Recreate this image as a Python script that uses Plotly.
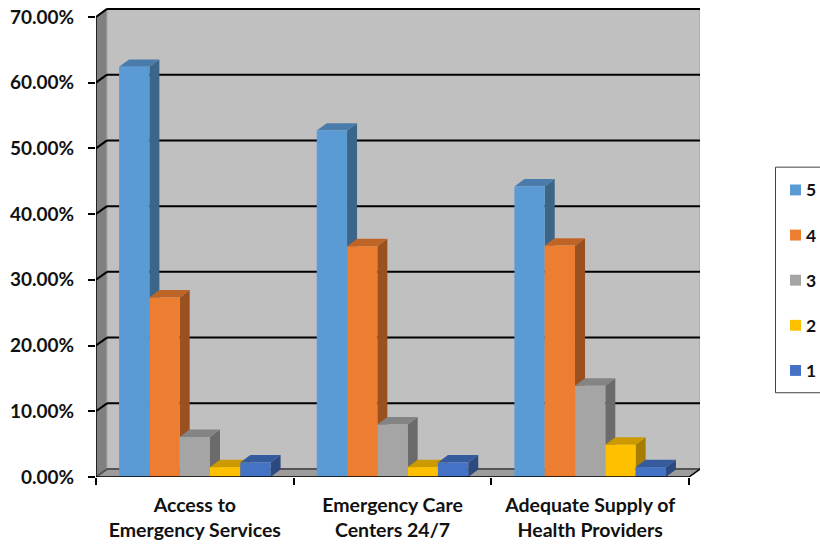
import plotly.graph_objects as go

# ---- data -------------------------------------------------------------
categories = [
    "Access to<br>Emergency Services",
    "Emergency Care<br>Centers 24/7",
    "Adequate Supply of<br>Health Providers",
]
series_names = ["5", "4", "3", "2", "1"]
vals_5 = [62.4, 52.7, 44.2]
vals_4 = [27.3, 35.1, 35.2]
vals_3 = [6.1, 8.0, 13.9]
vals_2 = [1.5, 1.5, 4.9]
vals_1 = [2.2, 2.2, 1.5]
series_values = [vals_5, vals_4, vals_3, vals_2, vals_1]
y_tick_values = [0, 10, 20, 30, 40, 50, 60, 70]

# front / right-side / top face colours of each series
front_colors = ["#5B9BD5", "#ED7D31", "#A5A5A5", "#FFC000", "#4472C4"]
side_colors = ["#3B6589", "#9A511F", "#6B6B6B", "#A67D00", "#2C4A80"]
top_colors = ["#497CAA", "#BE6427", "#848484", "#CC9A00", "#365B9D"]

# ---- geometry -----------------------------------------------------------
W, H = 820, 546
X_MIN = -0.5
PX_PER_X = 197.67          # pixels per category
PX_PER_Y = 6.629           # pixels per percentage point
WALL_DX, WALL_DY = 11, 8   # depth of the walls (px)
BAR_DX, BAR_DY = 10, 7.5   # depth of the columns (px)
X_MAX = 2.5 + WALL_DX / PX_PER_X
Y_MAX = 71.5

plot_w = (X_MAX - X_MIN) * PX_PER_X
plot_h = Y_MAX * PX_PER_Y
M_L = 96
M_T = 5
M_R = W - M_L - plot_w
M_B = H - M_T - plot_h

wdx, wdy = WALL_DX / PX_PER_X, WALL_DY / PX_PER_Y
bdx, bdy = BAR_DX / PX_PER_X, BAR_DY / PX_PER_Y

BARGAP = 0.2335
n_series = len(series_names)
bar_w = (1 - BARGAP) / n_series
offsets = [-(1 - BARGAP) / 2 + i * bar_w for i in range(n_series)]

LABEL_FONT = dict(family="Lato", weight="bold", color="#111111")

fig = go.Figure()

# side and top faces of the columns (drawn behind the front faces)
for i, vals in enumerate(series_values):
    sx, sy, tx, ty = [], [], [], []
    for c, v in enumerate(vals):
        x0 = c + offsets[i]
        x1 = x0 + bar_w
        sx += [x1, x1 + bdx, x1 + bdx, x1, x1, None]
        sy += [0, bdy, v + bdy, v, 0, None]
        tx += [x0, x0 + bdx, x1 + bdx, x1, x0, None]
        ty += [v, v + bdy, v + bdy, v, v, None]
    fig.add_trace(go.Scatter(x=sx, y=sy, mode="lines", fill="toself",
                             fillcolor=side_colors[i], line=dict(width=0, color=side_colors[i]),
                             hoverinfo="skip", showlegend=False))
    fig.add_trace(go.Scatter(x=tx, y=ty, mode="lines", fill="toself",
                             fillcolor=top_colors[i], line=dict(width=0, color=top_colors[i]),
                             hoverinfo="skip", showlegend=False))

# front faces of the columns on an overlaid axis pair so they sit on top
for i, vals in enumerate(series_values):
    fig.add_trace(go.Bar(
        x=[0, 1, 2], y=vals, name=series_names[i],
        width=bar_w, offset=offsets[i],
        marker=dict(color=front_colors[i], line=dict(width=0)),
        xaxis="x2", yaxis="y2", showlegend=False,
    ))

shapes = []
# left side wall, floor and back wall
shapes.append(dict(type="path", xref="x", yref="y", layer="below",
                   path=f"M{X_MIN},0 L{X_MIN},70 L{X_MIN + wdx},{70 + wdy} L{X_MIN + wdx},{wdy} Z",
                   fillcolor="#808080", line=dict(color="#9a9a9a", width=1)))
shapes.append(dict(type="path", xref="x", yref="y", layer="below",
                   path=f"M{X_MIN},0 L{X_MIN + wdx},{wdy} L{2.5 + wdx},{wdy} L2.5,0 Z",
                   fillcolor="#9C9C9C", line=dict(color="#8a8a8a", width=1)))
shapes.append(dict(type="rect", xref="x", yref="y", layer="below",
                   x0=X_MIN + wdx, x1=2.5 + wdx, y0=wdy, y1=70 + wdy,
                   fillcolor="#C0C0C0", line=dict(color="#A0A0A0", width=1)))
# gridlines on the back wall and their returns on the side wall
for t in y_tick_values:
    col = "#000000" if t > 0 else "#555555"
    shapes.append(dict(type="line", xref="x", yref="y", layer="below",
                       x0=X_MIN + wdx, x1=2.5 + wdx, y0=t + wdy, y1=t + wdy,
                       line=dict(color=col, width=2)))
    shapes.append(dict(type="line", xref="x", yref="y", layer="below",
                       x0=X_MIN, x1=X_MIN + wdx, y0=t, y1=t + wdy,
                       line=dict(color=col, width=2)))
# front axis lines
shapes.append(dict(type="path", xref="x", yref="y", layer="above",
                   path=f"M{X_MIN},0 L2.5,0 L{2.5 + wdx},{wdy}",
                   line=dict(color="#000000", width=1.5)))
shapes.append(dict(type="line", xref="x", yref="y", layer="above",
                   x0=X_MIN, x1=X_MIN, y0=0, y1=70,
                   line=dict(color="#000000", width=1.5)))

# legend box and keys
def px_to_paper_x(px):
    return (px - M_L) / plot_w

def py_to_paper_y(py):
    return (H - M_B - py) / plot_h

annotations = []
shapes.append(dict(type="rect", xref="paper", yref="paper",
                   x0=px_to_paper_x(775.5), x1=px_to_paper_x(830),
                   y0=py_to_paper_y(394), y1=py_to_paper_y(166.5),
                   fillcolor="white", line=dict(color="#404040", width=1)))
for i, name in enumerate(series_names):
    cy = 189.5 + i * 45.5
    shapes.append(dict(type="rect", xref="paper", yref="paper",
                       x0=px_to_paper_x(790), x1=px_to_paper_x(801),
                       y0=py_to_paper_y(cy + 5.5), y1=py_to_paper_y(cy - 5.5),
                       fillcolor=front_colors[i], line=dict(width=0)))
    annotations.append(dict(xref="paper", yref="paper", x=px_to_paper_x(804),
                            y=py_to_paper_y(cy), text=name, showarrow=False,
                            xanchor="left", yanchor="middle",
                            font=dict(size=17.5, **LABEL_FONT)))

fig.update_layout(
    width=W, height=H,
    margin=dict(l=M_L, r=M_R, t=M_T, b=M_B, pad=0),
    paper_bgcolor="white", plot_bgcolor="white",
    barmode="overlay",
    showlegend=False,
    shapes=shapes,
    annotations=annotations,
    xaxis=dict(range=[X_MIN, X_MAX], tickvals=[0, 1, 2], ticktext=categories,
               ticks="", showgrid=False, zeroline=False, showline=False,
               ticklabelstandoff=14,
               tickfont=dict(size=19.5, **LABEL_FONT),
               minor=dict(tickvals=[-0.5, 0.5, 1.5, 2.5], ticks="outside", ticklen=7,
                          tickwidth=1.5, tickcolor="#000000", showgrid=False)),
    yaxis=dict(range=[0, Y_MAX], tickvals=y_tick_values,
               ticktext=[f"{t:.2f}%" for t in y_tick_values],
               ticks="outside", ticklen=7, tickwidth=1.5, tickcolor="#000000",
               showgrid=False, zeroline=False, showline=False,
               ticklabelstandoff=10,
               tickfont=dict(size=19, **LABEL_FONT)),
    xaxis2=dict(range=[X_MIN, X_MAX], overlaying="x", visible=False),
    yaxis2=dict(range=[0, Y_MAX], overlaying="y", visible=False),
)

fig.write_html("out.html")
